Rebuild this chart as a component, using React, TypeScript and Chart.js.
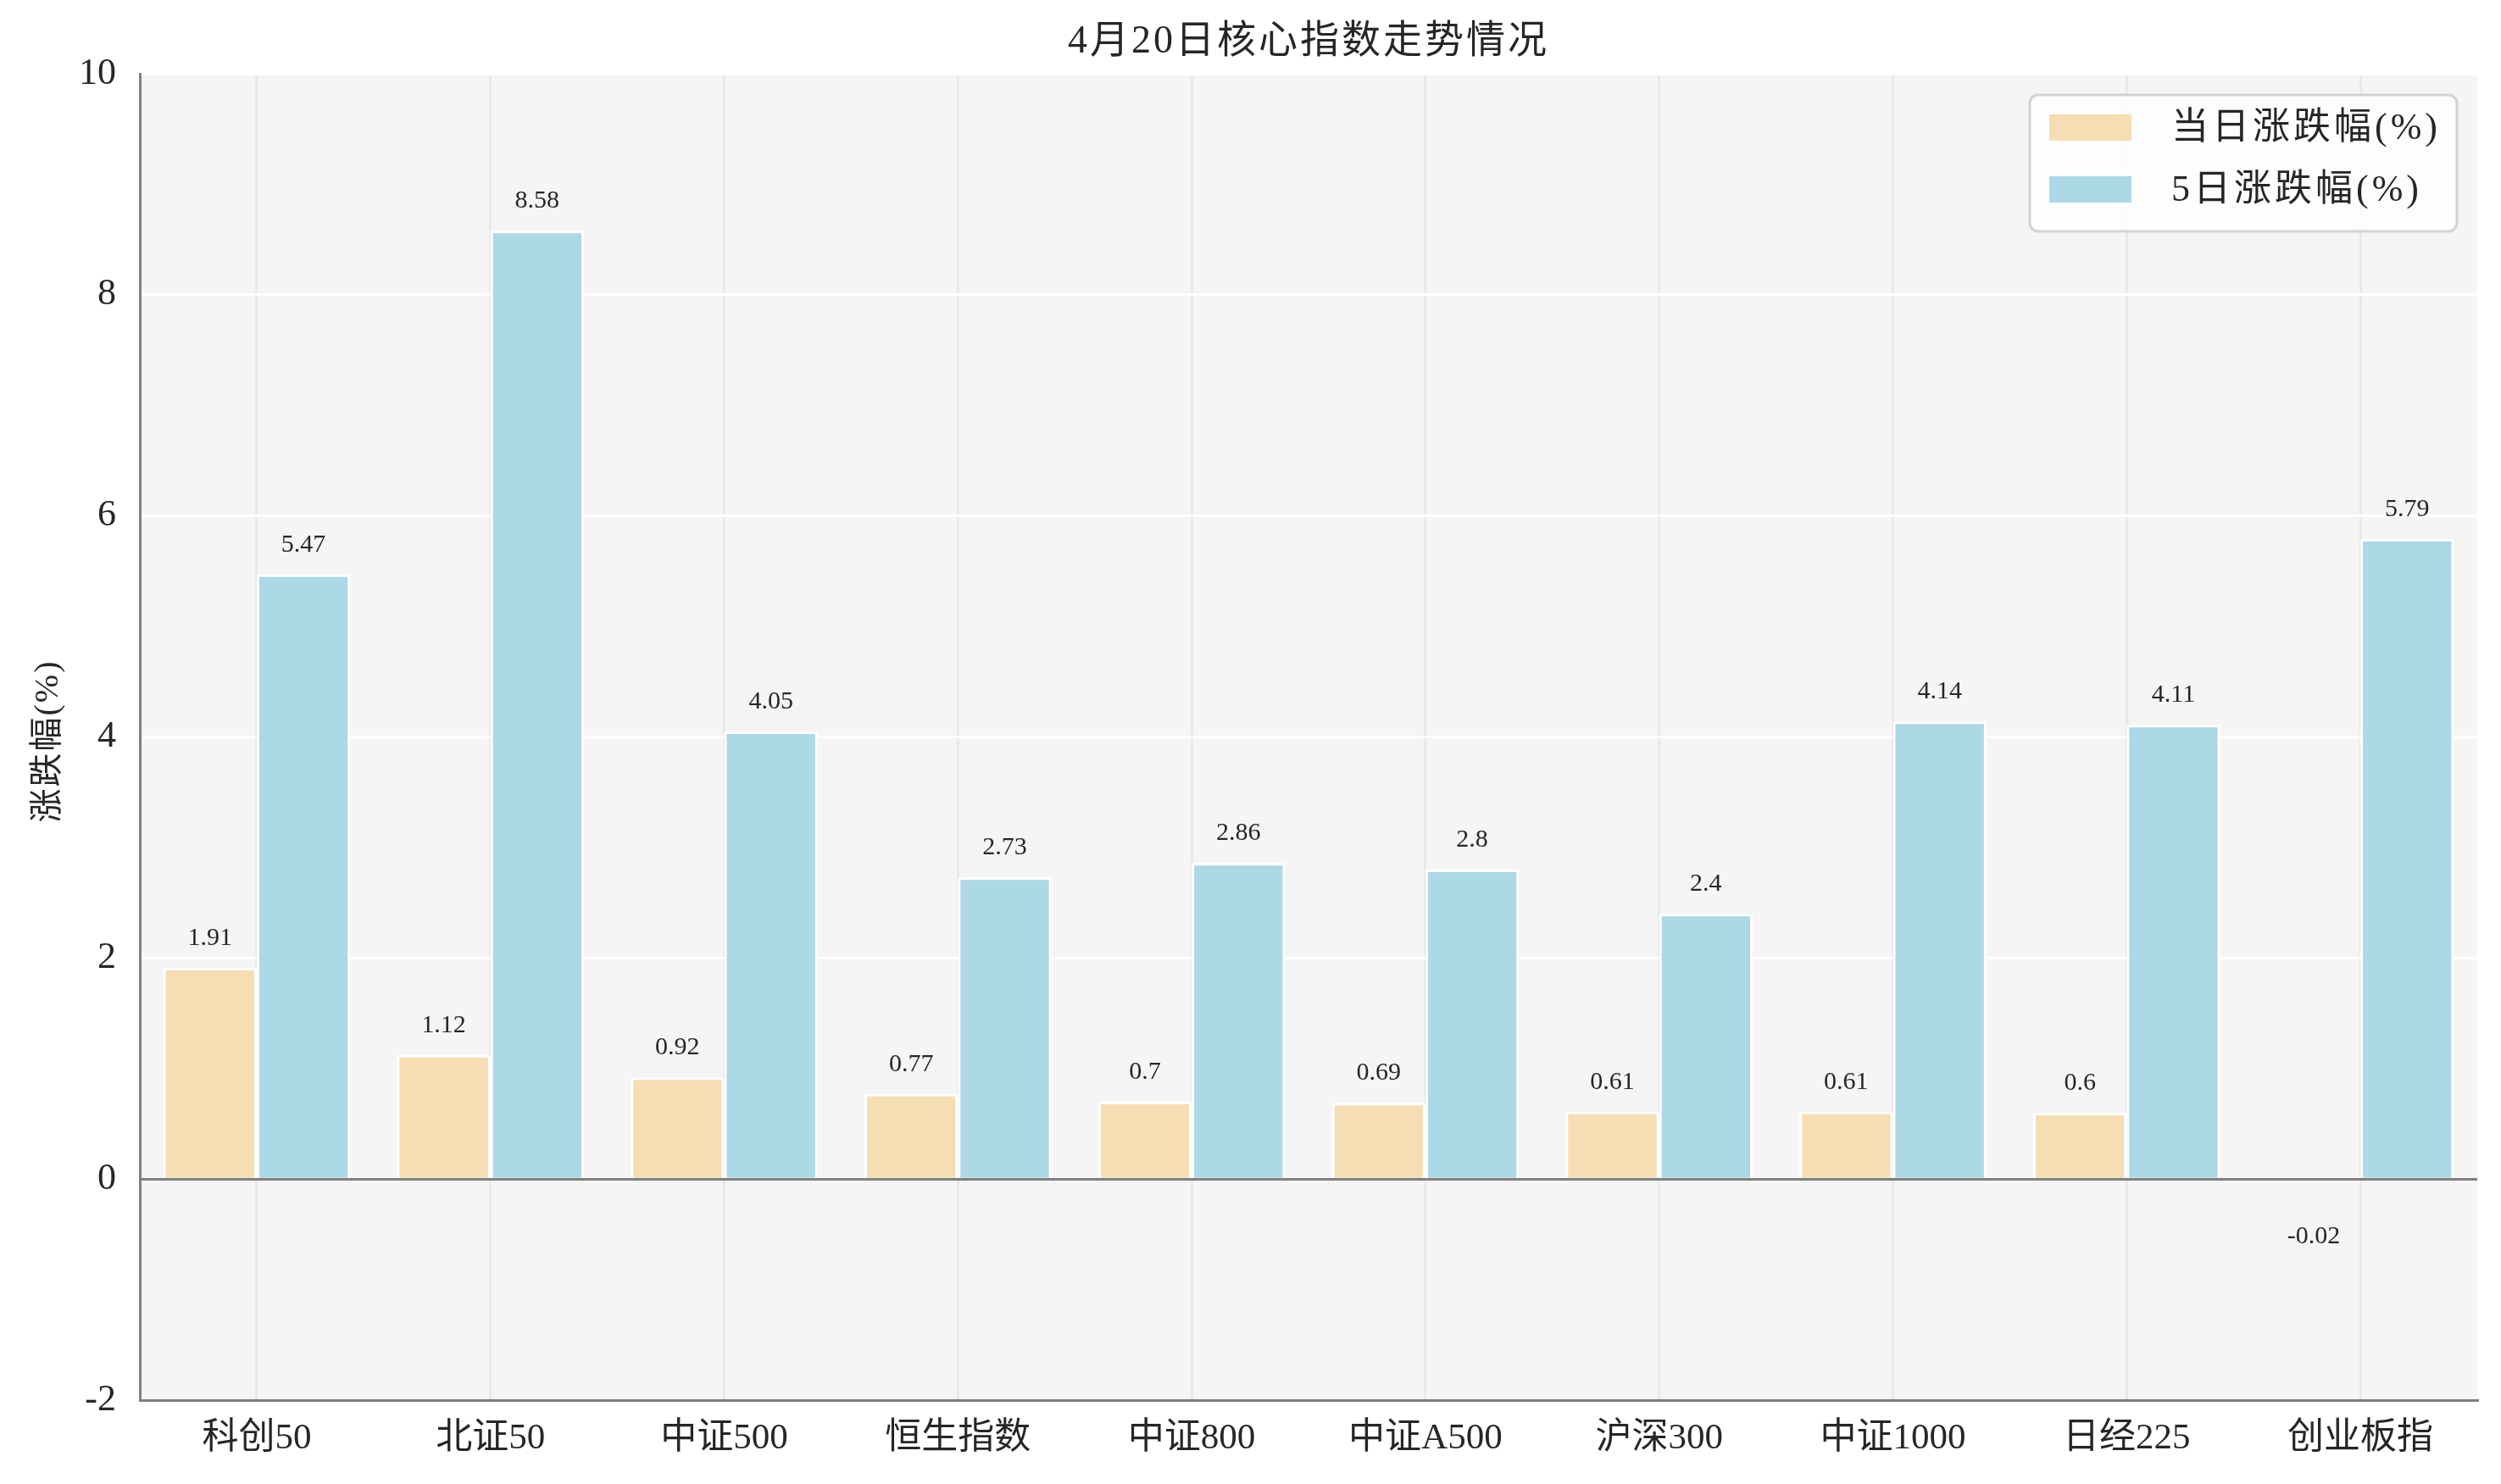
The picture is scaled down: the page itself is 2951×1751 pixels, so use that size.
import React, { useEffect, useRef } from "react";
import { Chart, registerables } from "chart.js";

Chart.register(...registerables);

const categories = ["科创50", "北证50", "中证500", "恒生指数", "中证800", "中证A500", "沪深300", "中证1000", "日经225", "创业板指"];
const dailyChange = [1.91, 1.12, 0.92, 0.77, 0.7, 0.69, 0.61, 0.61, 0.6, -0.02];
const fiveDayChange = [5.47, 8.58, 4.05, 2.73, 2.86, 2.8, 2.4, 4.14, 4.11, 5.79];
const seriesLabels = ["当日涨跌幅(%)", "5日涨跌幅(%)"];
const seriesColors = ["#F5DEB3", "#ADD8E6"];
const yMin = -2;
const yMax = 10;
const yStep = 2;
const chartTitle = "4月20日核心指数走势情况";
const yAxisTitle = "涨跌幅(%)";

const W = 2951;
const H = 1751;
const FONT = '"Liberation Serif", "Noto Sans CJK SC", serif';
const TEXT = "#262626";

const decorPlugin = {
  id: "decor",
  beforeDraw(chart: any) {
    const { ctx, chartArea } = chart;
    ctx.save();
    ctx.fillStyle = "#ffffff";
    ctx.fillRect(0, 0, chart.width, chart.height);
    ctx.fillStyle = "#f5f5f5";
    ctx.fillRect(chartArea.left, chartArea.top, chartArea.right - chartArea.left, chartArea.bottom - chartArea.top);
    ctx.restore();
  },
  afterDraw(chart: any) {
    const { ctx, chartArea } = chart;
    ctx.save();
    // title
    ctx.fillStyle = TEXT;
    ctx.font = `46px ${FONT}`;
    (ctx as any).letterSpacing = "3px";
    ctx.textAlign = "center";
    ctx.textBaseline = "middle";
    ctx.fillText(chartTitle, (chartArea.left + chartArea.right) / 2, 50);
    // y axis title
    (ctx as any).letterSpacing = "2px";
    ctx.font = `40px ${FONT}`;
    ctx.translate(57, (chartArea.top + chartArea.bottom) / 2 + 5);
    ctx.rotate(-Math.PI / 2);
    ctx.fillText(yAxisTitle, 0, 0);
    ctx.restore();

    // data labels
    ctx.save();
    ctx.fillStyle = TEXT;
    ctx.font = `30px ${FONT}`;
    ctx.textAlign = "center";
    ctx.textBaseline = "alphabetic";
    chart.data.datasets.forEach((ds: any, i: number) => {
      const meta = chart.getDatasetMeta(i);
      meta.data.forEach((el: any, j: number) => {
        const v = ds.data[j];
        const y = v >= 0 ? el.y - 27 : el.y + 73;
        ctx.fillText(String(v), el.x, y);
      });
    });
    ctx.restore();

    // legend
    ctx.save();
    const bx = 2395, by = 112, bw = 504, bh = 161, r = 10;
    ctx.beginPath();
    ctx.moveTo(bx + r, by);
    ctx.arcTo(bx + bw, by, bx + bw, by + bh, r);
    ctx.arcTo(bx + bw, by + bh, bx, by + bh, r);
    ctx.arcTo(bx, by + bh, bx, by, r);
    ctx.arcTo(bx, by, bx + bw, by, r);
    ctx.closePath();
    ctx.fillStyle = "rgba(255,255,255,0.8)";
    ctx.fill();
    ctx.strokeStyle = "#d3d3d3";
    ctx.lineWidth = 3;
    ctx.stroke();
    chart.data.datasets.forEach((ds: any, i: number) => {
      const sy = 135 + i * 73;
      ctx.fillStyle = ds.backgroundColor;
      ctx.fillRect(2418, sy, 97, 31);
      ctx.fillStyle = TEXT;
      ctx.font = `44px ${FONT}`;
      (ctx as any).letterSpacing = "4px";
      ctx.textAlign = "left";
      ctx.textBaseline = "middle";
      ctx.fillText(ds.label, 2562, sy + 17);
    });
    ctx.restore();
  },
};

export default function App() {
  const ref = useRef<HTMLCanvasElement | null>(null);
  useEffect(() => {
    document.body.style.margin = "0";
    if (!ref.current) return;
    const chart = new Chart(ref.current, {
      type: "bar",
      data: {
        labels: categories,
        datasets: [
          {
            label: seriesLabels[0],
            data: dailyChange,
            backgroundColor: seriesColors[0],
            borderColor: "#ffffff",
            borderWidth: 3,
            categoryPercentage: 0.8,
            barPercentage: 1,
          },
          {
            label: seriesLabels[1],
            data: fiveDayChange,
            backgroundColor: seriesColors[1],
            borderColor: "#ffffff",
            borderWidth: 3,
            categoryPercentage: 0.8,
            barPercentage: 1,
          },
        ],
      },
      options: {
        responsive: false,
        animation: false,
        devicePixelRatio: 1,
        layout: { padding: { top: 87, right: 28, left: 0, bottom: 0 } },
        plugins: {
          legend: { display: false },
          title: { display: false },
          tooltip: { enabled: false },
        },
        scales: {
          x: {
            grid: { offset: false, color: "#e9e9e9", lineWidth: 3, drawTicks: false },
            border: { display: true, color: "#808080", width: 3 },
            ticks: { color: TEXT, font: { family: FONT, size: 43 }, padding: 20, maxRotation: 0, autoSkip: false },
            afterFit: (s: any) => {
              s.height = 99;
            },
          },
          y: {
            min: yMin,
            max: yMax,
            ticks: { stepSize: yStep, color: TEXT, font: { family: FONT, size: 44 }, padding: 28 },
            grid: {
              color: (c: any) => (c.tick && c.tick.value === 0 ? "#808080" : "#ffffff"),
              lineWidth: 3,
              drawTicks: false,
            },
            border: { display: true, color: "#808080", width: 3 },
            afterFit: (s: any) => {
              s.width = 165;
            },
          },
        },
      } as any,
      plugins: [decorPlugin],
    });
    return () => chart.destroy();
  }, []);
  return (
    <div style={{ width: W, height: H }}>
      <canvas ref={ref} width={W} height={H} style={{ display: "block", width: W, height: H }} />
    </div>
  );
}
